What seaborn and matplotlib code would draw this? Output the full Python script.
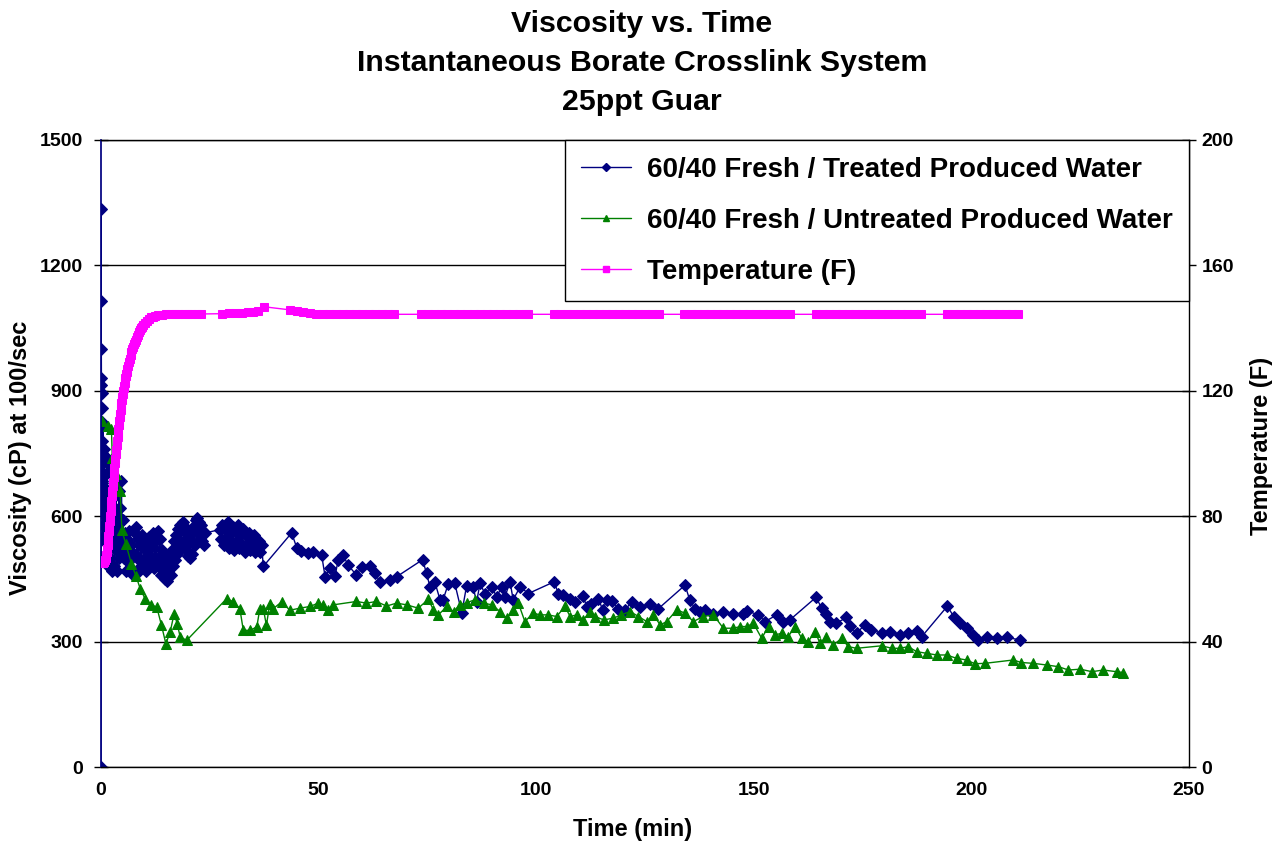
import matplotlib
matplotlib.use("Agg")
import matplotlib.pyplot as plt
from matplotlib.lines import Line2D
import seaborn as sns
import pandas as pd

# --- data ---
treated_time = [0.0, 0.02, 0.04, 0.06, 0.08, 0.10, 0.12, 0.14, 0.16, 0.18, 0.20, 0.22, 0.25, 0.28,
                0.30, 0.33, 0.36, 0.40, 0.45,
                0.50, 0.65, 0.80, 0.95, 1.10, 1.25, 1.40, 1.55, 1.70, 1.85, 2.00, 2.15, 2.30,
                2.45, 2.60, 2.75, 2.90, 3.05, 3.20, 3.35, 3.50, 3.65, 3.80, 3.95, 4.10, 4.25,
                4.40, 4.55, 4.70, 4.85,
                5.00, 5.25, 5.50, 5.75, 6.00, 6.25, 6.50, 6.75, 7.00, 7.25, 7.50, 7.75, 8.00,
                8.25, 8.50, 8.75, 9.00, 9.25, 9.50, 9.75, 10.00, 10.25, 10.50, 10.75, 11.00,
                11.25, 11.50, 11.75, 12.00, 12.25, 12.50, 12.75, 13.00, 13.25, 13.50, 13.75,
                14.00, 14.25, 14.50, 14.75, 15.00, 15.25, 15.50,
                15.75, 16.00, 16.25, 16.50, 16.75, 17.00, 17.25, 17.50, 17.75, 18.00, 18.25,
                18.50, 18.75, 19.00, 19.25, 19.50, 19.75, 20.00, 20.25, 20.50, 20.75, 21.00,
                21.25, 21.50, 21.75, 22.00, 22.25, 22.50, 22.75, 23.00, 23.25, 23.50, 23.75,
                24.00,
                27.3, 27.6, 27.9, 28.2, 28.5, 28.8, 29.1, 29.4, 29.7, 30.0, 30.3, 30.6, 30.9,
                31.2, 31.5, 31.8, 32.1, 32.4, 32.7, 33.0, 33.3, 33.6, 33.9, 34.2, 34.5, 34.8,
                35.1, 35.4, 35.7, 36.0, 36.3, 36.6, 36.9,
                37.3, 43.8, 45.0,
                45.9, 47.5, 48.8, 50.7, 51.5, 52.6, 53.8, 54.5, 55.6, 56.8, 58.7, 59.9, 61.8,
                63.0, 64.1, 66.4, 67.9, 73.9, 74.8, 75.6, 76.7, 77.9, 78.6, 79.8, 81.3, 82.9,
                84.0, 85.5, 86.3, 87.1, 88.2, 89.8, 90.9, 92.1, 92.8, 94.0, 94.7, 96.3, 98.2,
                104.1, 105.1, 106.2, 107.8, 108.9, 110.8, 111.6, 112.7, 114.3, 115.3, 116.2,
                117.4, 118.9, 120.4, 121.9, 123.9, 126.1, 128.1, 134.2, 135.3, 136.5, 137.6,
                138.8, 140.7, 143.0, 145.3, 147.6, 148.4, 151.0, 152.6, 155.3, 156.8, 158.3,
                164.3, 165.6, 166.6, 167.5, 169.0, 171.3, 172.1, 173.6, 175.5, 177.0, 179.4,
                181.3, 183.6, 185.5, 187.4, 188.6, 194.5, 195.9, 197.4, 198.9, 200.4, 201.6,
                203.5, 205.8, 208.1, 211.2]
treated_cp = [0, 1335, 1115, 1000, 930, 915, 895, 860, 825, 780, 750, 730, 705, 685,
              660, 630, 605, 580, 550,
              820, 540, 760, 500, 700, 580, 740, 480, 660, 560, 720, 500, 640,
              470, 610, 540, 680, 480, 620, 520, 650, 470, 600, 540, 660, 500,
              620, 560, 684, 520,
              590, 500, 560, 470, 545, 490, 565, 475, 530, 460, 510, 560, 575,
              500, 545, 470, 530, 480, 555, 495, 540, 470, 520, 490, 550,
              480, 530, 500, 560, 475, 540, 500, 565, 480, 545, 460,
              520, 470, 510, 450, 490, 444, 470,
              500, 460, 520, 480, 540, 495, 555, 510, 570, 520, 580,
              535, 585, 540, 575, 520, 560, 505, 550, 500, 560, 510,
              575, 530, 590, 596, 560, 585, 545, 580, 540, 565, 530,
              560,
              568, 545, 580, 530, 570, 540, 585, 525, 560, 535, 575, 520, 565,
              540, 580, 525, 560, 530, 570, 515, 555, 530, 560, 520, 550, 525,
              555, 515, 545, 520, 540, 515, 530,
              480, 560, 524,
              516, 512, 515, 507, 455, 475, 458, 495, 507, 483, 459, 479, 480,
              463, 443, 447, 455, 496, 463, 431, 443, 400, 400, 438, 439, 369,
              433, 431, 395, 439, 415, 431, 407, 431, 407, 443, 400, 431, 415,
              443, 415, 411, 403, 395, 409, 383, 391, 403, 375, 399,
              397, 379, 375, 395, 383, 391, 379, 435, 399, 379, 371,
              375, 367, 371, 367, 367, 374, 364, 348, 364, 348, 352,
              406, 380, 366, 348, 344, 358, 337, 320, 340, 328, 320,
              324, 316, 320, 326, 312, 385, 360, 344, 332, 316, 304,
              310, 308, 310, 304]

untreated_time = [0.3, 1.5, 2.4, 2.6, 3.5, 4.4, 4.8, 5.7, 7.0, 8.0, 9.0, 10.1, 11.6, 12.8,
                  13.9, 14.9, 15.9, 16.8, 17.5, 18.2, 19.7, 28.9, 30.4, 31.9, 32.7, 34.2,
                  35.8, 36.5, 37.3, 38.0, 38.8, 39.6, 41.5, 43.4, 45.7, 48.0, 49.9, 51.1,
                  52.2, 53.4, 58.7, 61.0, 63.3, 65.6, 67.9, 70.2, 72.9, 75.2, 76.4, 77.5,
                  79.5, 81.0, 82.5, 84.0, 85.9, 87.9, 89.8, 91.7, 93.2, 94.7, 95.9, 97.4,
                  99.3, 100.9, 102.7, 104.7, 106.6, 107.8, 109.3, 110.8, 112.4, 113.5,
                  115.5, 117.7, 119.6, 121.6, 123.5, 125.4, 126.9, 128.5, 130.0, 132.3,
                  134.2, 136.1, 138.4, 140.7, 143.0, 145.3, 146.9, 148.4, 149.9, 151.8,
                  153.4, 154.9, 156.4, 157.9, 159.5, 161.0, 162.5, 164.1, 165.2, 166.7,
                  168.3, 170.2, 171.7, 173.6, 179.4, 181.7, 183.6, 185.5, 187.4, 189.7,
                  192.0, 194.3, 196.6, 198.9, 200.8, 203.1, 209.6, 211.5, 214.2, 217.3,
                  220.0, 222.3, 225.0, 227.7, 230.3, 233.4, 234.9]
untreated_cp = [828, 816, 808, 740, 700, 661, 566, 534, 486, 458, 427, 403, 387, 383,
                339, 295, 323, 367, 343, 311, 303, 403, 395, 379, 327, 327,
                335, 379, 379, 339, 391, 379, 395, 375, 380, 384, 392, 387,
                376, 388, 396, 392, 396, 385, 392, 388, 380, 401, 376, 364,
                384, 372, 388, 393, 400, 392, 388, 372, 356, 376, 392, 348,
                368, 364, 364, 360, 384, 360, 364, 352, 372, 360,
                352, 356, 364, 372, 360, 348, 364, 340, 348, 376,
                368, 348, 360, 364, 332, 332, 336, 336, 344, 308,
                336, 316, 320, 312, 336, 308, 300, 324, 296, 312,
                292, 308, 288, 284, 290, 284, 284, 288, 276, 272,
                268, 268, 260, 256, 247, 248, 256, 250, 248, 244,
                240, 232, 234, 228, 232, 228, 226]

temp_time = [0.0, 0.25, 0.5, 0.75,
             1.0, 1.1, 1.2, 1.3, 1.4, 1.5, 1.6, 1.7, 1.8, 1.9, 2.0, 2.1, 2.2, 2.3, 2.4,
             2.5, 2.6, 2.7, 2.8, 2.9, 3.0, 3.1, 3.2, 3.3, 3.4, 3.5, 3.6, 3.7, 3.8, 3.9,
             4.0, 4.1, 4.2, 4.3, 4.4, 4.5, 4.6, 4.7, 4.8, 4.9, 5.0, 5.1, 5.2, 5.3, 5.4,
             5.5, 5.6, 5.7, 5.8, 5.9, 6.0, 6.2, 6.4, 6.6, 6.8, 7.0, 7.2, 7.4, 7.6, 7.8,
             8.0, 8.25, 8.5, 8.75, 9.0, 9.25, 9.5, 9.75, 10.0, 10.5, 11.0, 11.5, 12.0,
             12.5, 13.0, 14.0, 15.0, 16.0, 17.0, 18.0, 19.0, 20.0, 21.0, 22.0, 23.0,
             27.8, 29.3, 30.8, 32.3, 33.8, 35.0, 36.0, 37.5, 43.5, 45.0, 46.5, 48.0,
             49.5, 51.0, 52.5, 54.0, 55.5, 57.0, 58.5, 60.0, 61.5, 63.0, 64.5, 66.0, 67.3,
             73.6, 75.1, 76.6, 78.1, 79.6, 81.1, 82.6, 84.1, 85.6, 87.1, 88.6, 90.1, 91.6,
             93.1, 94.6, 96.1, 97.6, 98.2, 104.0, 105.5, 107.0, 108.5, 110.0, 111.5, 113.0,
             114.5, 116.0, 117.5, 119.0, 120.5, 122.0, 123.5, 125.0, 126.5, 128.2, 134.0,
             135.5, 137.0, 138.5, 140.0, 141.5, 143.0, 144.5, 146.0, 147.5, 149.0, 150.5,
             152.0, 153.5, 155.0, 156.5, 158.3, 164.3, 165.8, 167.3, 168.8, 170.3, 171.8,
             173.3, 174.8, 176.3, 177.8, 179.3, 180.8, 182.3, 183.8, 185.3, 186.8, 188.4,
             194.4, 195.9, 197.4, 198.9, 200.4, 201.9, 203.4, 204.9, 206.4, 207.9, 209.4,
             210.7]
temp_f = [65, 65, 65, 65.5,
          66, 66.8, 67.6, 68.6, 69.6, 70.8, 72.2, 73.6, 75.2, 76.8, 78.4, 80, 81.6, 83.2, 84.8,
          86.4, 88, 89.5, 91, 92.5, 94, 95.5, 97, 98.4, 99.8, 101.2, 102.6, 104, 105.3, 106.6,
          107.9, 109.1, 110.3, 111.5, 112.7, 113.8, 114.9, 116, 117, 118, 119, 119.9, 120.8, 121.6, 122.4,
          123.2, 124, 124.7, 125.4, 126.1, 126.8, 128, 129.2, 130.3, 131.3, 132.3, 133.2, 134, 134.8, 135.6,
          136.3, 137.1, 137.9, 138.6, 139.3, 139.9, 140.5, 141, 141.5, 142.3, 142.9, 143.4, 143.7,
          144, 144.2, 144.3, 144.4, 144.4, 144.5, 144.5, 144.5, 144.5, 144.5, 144.5, 144.5,
          144.6, 144.7, 144.8, 144.9, 145.0, 145.2, 145.5, 146.8, 145.8, 145.3, 145.0, 144.7,
          144.5, 144.4, 144.4, 144.4, 144.4, 144.4, 144.4, 144.4, 144.4, 144.4, 144.4, 144.4, 144.4,
          144.4, 144.4, 144.4, 144.4, 144.4, 144.4, 144.4, 144.4, 144.4, 144.4, 144.4, 144.4, 144.4,
          144.4, 144.4, 144.4, 144.4, 144.4, 144.4, 144.4, 144.4, 144.4, 144.4, 144.4, 144.4,
          144.4, 144.4, 144.4, 144.4, 144.4, 144.4, 144.4, 144.4, 144.4, 144.4, 144.4,
          144.4, 144.4, 144.4, 144.4, 144.4, 144.4, 144.4, 144.4, 144.4, 144.4, 144.4,
          144.4, 144.4, 144.4, 144.4, 144.4, 144.4, 144.4, 144.4, 144.4, 144.4, 144.4,
          144.4, 144.4, 144.4, 144.4, 144.4, 144.4, 144.4, 144.4, 144.4, 144.4, 144.4,
          144.4, 144.4, 144.4, 144.4, 144.4, 144.4, 144.4, 144.4, 144.4, 144.4, 144.4,
          144.4]

treated_label = "60/40 Fresh / Treated Produced Water"
untreated_label = "60/40 Fresh / Untreated Produced Water"
temp_label = "Temperature (F)"

navy = "#000080"
green = "#008000"
magenta = "#FF00FF"

sns.set_theme(style="white")
plt.rcParams['font.family'] = ['Liberation Sans', 'DejaVu Sans']
plt.rcParams['font.weight'] = 'bold'
plt.rcParams['text.color'] = 'black'
plt.rcParams['axes.labelcolor'] = 'black'
plt.rcParams['xtick.color'] = 'black'
plt.rcParams['ytick.color'] = 'black'

df_t = pd.DataFrame({"time": treated_time, "cp": treated_cp})
df_u = pd.DataFrame({"time": untreated_time, "cp": untreated_cp})
df_temp = pd.DataFrame({"time": temp_time, "temp": temp_f})

fig = plt.figure(figsize=(12.84, 8.46), dpi=100)
ax = fig.add_axes([101/1284, 1 - 767/846, 1088/1284, 627/846])

sns.lineplot(data=df_t, x="time", y="cp", ax=ax, estimator=None, sort=False,
             color=navy, linewidth=1, marker="D", markersize=6,
             markeredgecolor=navy, markerfacecolor=navy)
sns.lineplot(data=df_u, x="time", y="cp", ax=ax, estimator=None, sort=False,
             color=green, linewidth=1, marker="^", markersize=7,
             markeredgecolor=green, markerfacecolor=green)

ax.set_xlim(0, 250)
ax.set_ylim(0, 1500)
ax.set_xticks([0, 50, 100, 150, 200, 250])
ax.set_yticks([0, 300, 600, 900, 1200, 1500])
ax.yaxis.grid(True, color="black", linewidth=1)
ax.set_axisbelow(True)
for side in ["top", "right", "bottom"]:
    ax.spines[side].set_color("black")
    ax.spines[side].set_linewidth(1)
ax.spines["left"].set_color(navy)
ax.tick_params(axis="both", direction="inout", length=10, width=1, colors="black",
               labelsize=14)
ax.tick_params(axis="y", pad=8)
ax.tick_params(axis="x", pad=6)
ax.set_xlabel("Time (min)", fontsize=17, fontweight="bold", va="center")
ax.set_ylabel("Viscosity (cP) at 100/sec", fontsize=17, fontweight="bold", va="center")
ax.xaxis.set_label_coords(0.489, -0.10)
ax.yaxis.set_label_coords(-0.074, 0.493)

ax2 = ax.twinx()
sns.lineplot(data=df_temp, x="time", y="temp", ax=ax2, estimator=None, sort=False,
             color=magenta, linewidth=1, marker="s", markersize=5.5,
             markeredgecolor=magenta, markerfacecolor=magenta)
ax2.set_ylim(0, 200)
ax2.set_yticks([0, 40, 80, 120, 160, 200])
ax2.tick_params(axis="y", direction="inout", length=10, width=1, colors="black",
                labelsize=14, pad=4)
ax2.set_ylabel("Temperature (F)", fontsize=17, fontweight="bold", va="center")
ax2.yaxis.set_label_coords(1.067, 0.512)
for side in ax2.spines:
    ax2.spines[side].set_visible(False)

handles = [
    Line2D([], [], color=navy, linewidth=1, marker="D", markersize=4),
    Line2D([], [], color=green, linewidth=1, marker="^", markersize=5),
    Line2D([], [], color=magenta, linewidth=1, marker="s", markersize=4),
]
leg = ax2.legend(handles, [treated_label, untreated_label, temp_label],
                 loc="upper right", bbox_to_anchor=(1.0, 1.0), borderaxespad=0,
                 frameon=True, fancybox=False, edgecolor="black", framealpha=1,
                 fontsize=20, labelspacing=0.9, handlelength=1.8, handletextpad=0.55,
                 borderpad=0.6)
leg.get_frame().set_linewidth(1)
for t in leg.get_texts():
    t.set_fontweight("bold")

fig.text(0.5, 0.988, "Viscosity vs. Time\nInstantaneous Borate Crosslink System\n25ppt Guar",
         ha="center", va="top", fontsize=21.8, fontweight="bold", linespacing=1.5)

fig.savefig("out.png", dpi=100)
